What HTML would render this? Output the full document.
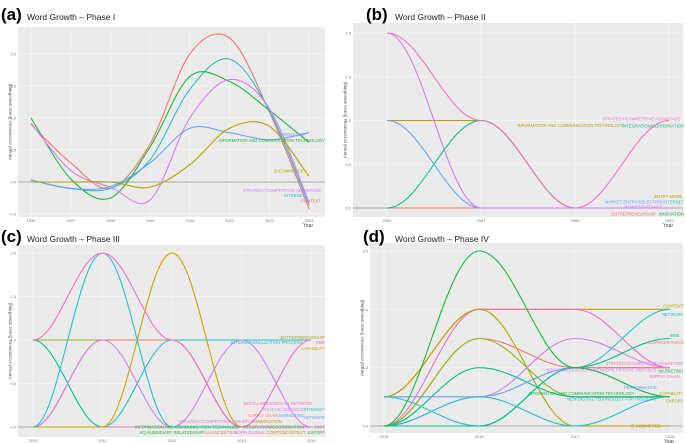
<!DOCTYPE html>
<html><head><meta charset="utf-8">
<style>
html,body{margin:0;padding:0;background:#fff;}
svg{display:block;font-family:"Liberation Sans",sans-serif;}
</style></head>
<body>
<svg id="chart" width="685" height="443" viewBox="0 0 685 443" xmlns="http://www.w3.org/2000/svg"></svg>
<script>
// ---------- Panel (a) data ----------
const aYears = [1996,1997,1998,1999,2000,2001,2002,2003];
const aTicks = [-0.5,0,0.5,1,1.5,2];
const aContext   = [0.9,0.3,-0.1,0.6,2.0,2.25,1.1,-0.42];
const aInternet  = [0.03,-0.1,-0.1,0.35,1.45,1.92,1.12,-0.36];
const aICT       = [1.0,0.05,-0.25,0.55,1.65,1.57,1.12,0.62];
const aStrategy  = [0.92,0.18,-0.08,-0.28,1.0,1.6,1.15,-0.32];
const aKnowledge = [0.03,-0.1,-0.07,0.3,0.84,0.77,0.66,0.77];
const aEcom      = [0,0,0,-0.08,0.27,0.84,0.87,0.09];
// ---------- Panel (b) data ----------
const bYears = [2006,2007,2008,2009];
const bTicks = [0,0.5,1,1.5,2];
const bStrategy = [2,1,0,1];
const bPower    = [2,0,0,0];
const bICT      = [1,1,0,0];
const bIntegr   = [0,1,0,0];
const bMarket   = [1,0,0,0];
const bZero     = [0,0,0,0];
// ---------- Panel (c) data ----------
const cYears = [2010,2011,2012,2013,2014];
const cTicks = [0,0.5,1,1.5,2];
const cPink1   = [1,2,1,0,0];
const cCyan1   = [0,2,0,0,0];
const cGold    = [0,0,2,0,0];
const cGreen   = [1,0,0,0,0];
const cEntre   = [1,1,1,1,1];
const cRed     = [0,1,1,0,0];
const cViolet  = [0,1,0,1,0];
const cSme     = [0,0,0,0,1];
const cBlue    = [0,0,1,1,1];
const cZero    = [0,0,0,0,0];
// ---------- Panel (d) data ----------
const dYears = [2015,2016,2017,2018];
const dTicks = [0,1,2,3];
const dGreen   = [0,3,1,0.5];
const dOlive1  = [0.5,2,0,0];
const dOlive2  = [0,1.5,0.5,0.5];
const dContext = [0.5,2,2,2];
const dPink    = [0,2,2,1];
const dRed     = [0,1.5,1,1];
const dTeal    = [0,1,0.5,0.5];
const dViolet  = [0,0.5,1.5,1];
const dBlue    = [0.5,0.5,1,0.5];
const dNetwork = [0.5,0,1,2];
const dCyan2   = [0,0.5,0,0.5];
const dMne     = [0,0,1,1.5];

const NS = "http://www.w3.org/2000/svg";
const svg = document.getElementById('chart');
function mk(tag, attrs, parent){
  const e = document.createElementNS(NS, tag);
  for (const k in attrs) e.setAttribute(k, attrs[k]);
  (parent||svg).appendChild(e);
  return e;
}
const C = {red:'#f8766d',olive:'#b79f00',gold:'#c9a300',green:'#1fb53f',teal:'#00c08b',cyan:'#26bfc8',blue:'#6a9ff5',violet:'#d27ef0',pink:'#f06fc6',lime:'#8fb51a'};

function panel(cfg){
  const g = mk('g',{});
  
  
  const x0=cfg.px0, x1=cfg.px1, y0=cfg.py0, y1=cfg.py1;
  const xs = v => cfg.tx0 + (v - cfg.years[0])/(cfg.years[cfg.years.length-1]-cfg.years[0])*(cfg.tx1-cfg.tx0);
  const ys = v => cfg.ty0 - (v - cfg.v0)/(cfg.v1-cfg.v0)*(cfg.ty0-cfg.ty1);
  const bg = mk('rect',{x:x0,y:y0,width:x1-x0,height:y1-y0,fill:'#ebebeb'},g);
  
  
  const step = cfg.yTicks[1]-cfg.yTicks[0];
  cfg.yTicks.forEach(t=>{
    mk('line',{x1:x0,x2:x1,y1:ys(t),y2:ys(t),stroke:'#f7f7f7','stroke-width':0.7},g);
    const tl = mk('text',{x:x0-2,y:ys(t)+1.5,'font-size':4,fill:'#777','text-anchor':'end'},g);
    tl.textContent = t.toFixed(1);
    
    
  });
  cfg.years.forEach((yr,i)=>{
    mk('line',{x1:xs(yr),x2:xs(yr),y1:y0,y2:y1,stroke:'#f7f7f7','stroke-width':0.7},g);
    const tl = mk('text',{x:xs(yr),y:y1+5,'font-size':4,fill:'#777','text-anchor':'middle'},g);
    tl.textContent = yr;
    
    
  });
  mk('line',{x1:x0,x2:x1,y1:ys(0),y2:ys(0),stroke:'#aaa','stroke-width':0.9},g);
  cfg.series.forEach(s=>{
    const pts = s.vals.map((v,i)=>[xs(cfg.years[i]), ys(v)]);
    let d = 'M'+pts[0][0]+','+pts[0][1];
    for(let i=0;i<pts.length-1;i++){
      const p1=pts[i], p2=pts[i+1];
      if(cfg.interp==='cr'){
        const p0=pts[i-1]||p1, p3=pts[i+2]||p2;
        d+=' C'+(p1[0]+(p2[0]-p0[0])/6)+','+(p1[1]+(p2[1]-p0[1])/6)+' '+(p2[0]-(p3[0]-p1[0])/6)+','+(p2[1]-(p3[1]-p1[1])/6)+' '+p2[0]+','+p2[1];
      } else {
        const dx=(p2[0]-p1[0])*0.36;
        d+=' C'+(p1[0]+dx)+','+p1[1]+' '+(p2[0]-dx)+','+p2[1]+' '+p2[0]+','+p2[1];
      }
    }
    const path = mk('path',{d:d,fill:'none',stroke:s.color,'stroke-width':1.1},g);
    
    
  });
  cfg.labels.forEach(l=>{
    const t = mk('text',{x:xs(l[2]),y:ys(l[3])+1.5,'font-size':4.2,fill:l[1],'text-anchor':'end'},g);
    t.textContent = l[0];
    
    
  });
  const pl = mk('text',{x:cfg.lx,y:cfg.ly,'font-size':17,'font-weight':'bold',fill:'#000'},g);
  pl.textContent = cfg.letter;
  
  
  const tt = mk('text',{x:cfg.tx,y:cfg.ly,'font-size':8.5,fill:'#222'},g);
  tt.textContent = cfg.title;
  
  
  const yt = mk('text',{x:0,y:0,'font-size':4.5,fill:'#555','text-anchor':'middle',transform:'translate('+(x0-6.5)+','+((y0+y1)/2)+') rotate(-90)'},g);
  yt.textContent = 'Annual occurrences (loess smoothing)';
  
  
  const xt = mk('text',{x:cfg.tx1-6,y:y1+10,'font-size':5,fill:'#444'},g);
  xt.textContent = 'Year';
  
  
}

panel({name:'panel-a',letter:'(a)',title:'Word Growth \u2013 Phase I',lx:1,ly:20,tx:27,
  px0:18,px1:325,py0:27,py1:217,tx0:31,tx1:309,ty0:182,ty1:54,v0:0,v1:2,
  years:aYears,yTicks:aTicks,interp:'cr',
  series:[
    {name:'line-context',color:C.red,vals:aContext},
    {name:'line-internet',color:C.cyan,vals:aInternet},
    {name:'line-ict',color:C.green,vals:aICT},
    {name:'line-strategy',color:C.violet,vals:aStrategy},
    {name:'line-knowledge',color:C.blue,vals:aKnowledge},
    {name:'line-ecommerce',color:C.olive,vals:aEcom}],
  labels:[['KNOWLEDGE',C.blue,2002.9,0.74],['INFORMATION AND COMMUNICATION TECHNOLOGY',C.green,2003.4,0.65],
    ['E-COMMERCE',C.olive,2002.86,0.17],['STRATEGY/COMPETITIVE ADVANTAGE',C.violet,2003.3,-0.13],
    ['INTERNET',C.cyan,2002.9,-0.21],['CONTEXT',C.red,2003.3,-0.3]]});

panel({name:'panel-b',letter:'(b)',title:'Word Growth  \u2013 Phase II',lx:366,ly:20,tx:395,
  px0:353,px1:683,py0:23,py1:217,tx0:387,tx1:669,ty0:208,ty1:33,v0:0,v1:2,
  years:bYears,yTicks:bTicks,interp:'h',
  series:[
    {name:'line-entrepreneurship',color:C.red,vals:bZero},
    {name:'line-ict',color:C.olive,vals:bICT},
    {name:'line-integration',color:C.teal,vals:bIntegr},
    {name:'line-market-entry',color:C.blue,vals:bMarket},
    {name:'line-power-distance',color:C.violet,vals:bPower},
    {name:'line-strategy',color:C.pink,vals:bStrategy}],
  labels:[['STRATEGY/COMPETITIVE ADVANTAGE',C.pink,2009.12,1.02],['INFORMATION AND COMMUNICATION TECHNOLOGY',C.olive,2008.52,0.945],
    ['INTEGRATION/COORDINATION',C.teal,2009.16,0.94],['ENTRY MODE',C.olive,2009.14,0.13],
    ['MARKET ENTRY/SELECTION',C.blue,2008.93,0.07],['INTERNET',C.cyan,2009.16,0.07],
    ['POWER/DISTANCE',C.violet,2008.93,0.01],['ENTREPRENEURSHIP',C.red,2008.86,-0.07],['INNOVATION',C.green,2009.16,-0.07]]});

panel({name:'panel-c',letter:'(c)',title:'Word Growth \u2013 Phase III',lx:1,ly:242,tx:27,
  px0:18,px1:325,py0:245,py1:437,tx0:33,tx1:311,ty0:427,ty1:253,v0:0,v1:2,
  years:cYears,yTicks:cTicks,interp:'h',
  series:[
    {name:'line-zero',color:C.green,vals:cZero},
    {name:'line-green',color:C.teal,vals:cGreen},
    {name:'line-entrepreneurship',color:C.lime,vals:cEntre},
    {name:'line-red',color:C.red,vals:cRed},
    {name:'line-blue',color:C.cyan,vals:cBlue},
    {name:'line-violet',color:C.violet,vals:cViolet},
    {name:'line-sme',color:C.pink,vals:cSme},
    {name:'line-gold',color:C.gold,vals:cGold},
    {name:'line-cyan',color:C.cyan,vals:cCyan1},
    {name:'line-pink',color:C.pink,vals:cPink1}],
  labels:[['ENTREPRENEURSHIP',C.lime,2014.2,1.03],['INTERNATIONALIZATION PROCESS',C.cyan,2013.87,0.97],['SME',C.pink,2014.2,0.97],
    ['CAPABILITY',C.gold,2014.2,0.9],['SOCIAL MEDIA/SOCIAL NETWORK',C.pink,2014.02,0.27],['PSYCHIC DISTANCE',C.violet,2013.9,0.2],
    ['INTERNET',C.cyan,2014.2,0.2],['SUPPLY CHAIN',C.red,2013.53,0.13],['MARKETING',C.blue,2013.9,0.13],['NETWORK',C.blue,2014.2,0.11],
    ['STRATEGY/COMPETITIVE ADVANTAGE',C.pink,2013.22,0.065],['INNOVATION',C.olive,2013.58,0.065],['RISK',C.pink,2014.2,0],
    ['INFORMATION AND COMMUNICATION TECHNOLOGY  INTEGRATION/COORDINATION',C.green,2013.9,0],
    ['HQ-SUBSIDIARY RELATIONSHIP',C.green,2012.46,-0.065],['ALLIANCES/TIES',C.red,2012.93,-0.065],['BORN GLOBAL',C.pink,2013.34,-0.065],
    ['CONTROL',C.olive,2013.65,-0.065],['CONTEXT',C.gold,2013.92,-0.065],['EXPORT',C.green,2014.2,-0.065]]});

panel({name:'panel-d',letter:'(d)',title:'Word Growth  \u2013 Phase IV',lx:363,ly:242,tx:395,
  px0:370,px1:683,py0:243,py1:433,tx0:384,tx1:670,ty0:426,ty1:251,v0:0,v1:3,
  years:dYears,yTicks:dTicks,interp:'h',
  series:[
    {name:'line-context',color:C.gold,vals:dContext},
    {name:'line-pink',color:C.pink,vals:dPink},
    {name:'line-red',color:C.red,vals:dRed},
    {name:'line-olive-1',color:C.olive,vals:dOlive1},
    {name:'line-olive-2',color:C.lime,vals:dOlive2},
    {name:'line-teal',color:C.teal,vals:dTeal},
    {name:'line-violet',color:C.violet,vals:dViolet},
    {name:'line-blue',color:C.blue,vals:dBlue},
    {name:'line-network',color:C.cyan,vals:dNetwork},
    {name:'line-cyan-2',color:C.cyan,vals:dCyan2},
    {name:'line-mne',color:C.teal,vals:dMne},
    {name:'line-green',color:C.green,vals:dGreen}],
  labels:[['CONTEXT',C.gold,2018.14,2.06],['NETWORK',C.cyan,2018.14,1.91],['MNE',C.teal,2018.1,1.55],
    ['ALLIANCE/ETHICS',C.red,2018.14,1.43],['STRATEGY/COMPETITIVE ADVANTAGE',C.pink,2018.14,1.07],
    ['SOCIAL MEDIA/SOCIAL NETWORK  PSYCHIC DISTANCE',C.violet,2017.86,0.96],['MARKETING',C.green,2018.14,0.94],
    ['SUPPLY CHAIN',C.pink,2018.1,0.85],['PERFORMANCE',C.blue,2017.86,0.66],
    ['INFORMATION AND COMMUNICATION TECHNOLOGY',C.green,2017.63,0.56],['CAPABILITY',C.gold,2018.14,0.56],
    ['NEW DIGITAL TECHNOLOGY FOR INDUSTRY',C.cyan,2017.86,0.46],['EXPORT',C.lime,2018.14,0.43],['E-COMMERCE',C.olive,2017.9,0]]});
</script>
</body></html>
